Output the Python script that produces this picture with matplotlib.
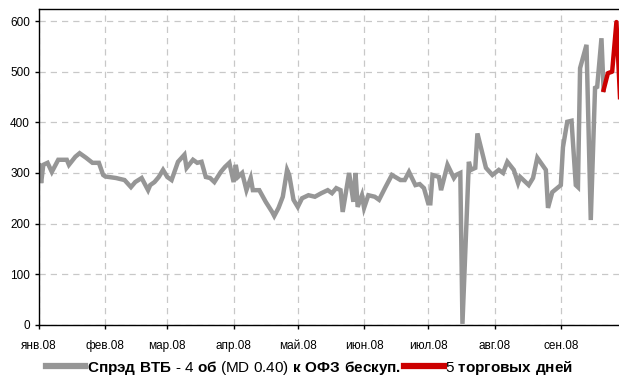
"""
Спрэд ВТБ-4 к ОФЗ, 2008
"""

import matplotlib
matplotlib.use("Agg")
import matplotlib.pyplot as plt
import pandas as pd

# day offset from 01.01.2008 and spread, bp
days = [0, 1, 2, 4, 6, 9, 13, 14, 17, 19, 22, 25, 28, 30, 31, 36, 40, 43, 45, 48,
        51, 52, 54, 56, 58, 60, 62, 65, 68, 69, 72, 74, 76, 78, 80, 82, 85, 87, 89, 91,
        92, 93, 95, 97, 99, 100, 103, 106, 109, 110, 112, 114, 116, 117, 119, 121, 123, 126, 129, 132,
        135, 137, 139, 141, 142, 145, 147, 148, 149, 151, 152, 154, 157, 159, 162, 165, 169, 171, 173, 176,
        178, 180, 182, 183, 184, 187, 188, 191, 194, 195, 197, 198, 201, 202, 204, 205, 209, 212, 215, 217,
        219, 222, 224, 225, 229, 231, 233, 237, 238, 240, 244, 245, 247, 249, 251, 252, 253, 256, 258, 260,
        261, 263, 264]
spread = [315, 280, 316, 320, 302, 326, 326, 316, 332, 339, 330, 320, 320, 296, 293, 290, 286, 272, 282, 290,
          266, 276, 282, 292, 306, 292, 286, 322, 336, 310, 326, 320, 322, 292, 290, 282, 302, 312, 320, 282,
          316, 292, 300, 266, 290, 266, 266, 243, 223, 215, 231, 253, 306, 296, 247, 233, 250, 256, 253, 260,
          266, 260, 270, 266, 223, 300, 243, 300, 233, 256, 231, 256, 253, 247, 272, 296, 286, 286, 302, 276,
          278, 270, 240, 240, 296, 292, 266, 316, 290, 296, 300, 2, 322, 306, 310, 378, 310, 296, 306, 300,
          322, 306, 280, 292, 276, 290, 330, 306, 231, 262, 276, 351, 401, 403, 276, 272, 507, 553, 207, 468,
          470, 566, 464]

# last 5 trading days
last_days = [264, 266, 268, 270, 272]
last_spread = [464, 497, 500, 598, 420]

months = ["янв.08", "фев.08", "мар.08", "апр.08", "май.08", "июн.08", "июл.08", "авг.08", "сен.08"]

start = pd.Timestamp("2008-01-01")
dates = start + pd.to_timedelta(days, unit="D")
last_dates = start + pd.to_timedelta(last_days, unit="D")

plt.rcParams["font.family"] = ["Liberation Sans", "DejaVu Sans"]
plt.rcParams["mathtext.fontset"] = "custom"
plt.rcParams["mathtext.rm"] = "Liberation Sans"
plt.rcParams["mathtext.bf"] = "Liberation Sans:bold"

fig = plt.figure(figsize=(6.19, 3.76), dpi=100)
ax = fig.add_axes([0.063, 0.136, 0.937, 0.840])

ax.plot(dates, spread, color="#969696", linewidth=3.2, solid_joinstyle="miter",
        label=r"$\mathbf{Спрэд\ ВТБ}$ - 4 $\mathbf{об}$ (MD 0.40) $\mathbf{к\ ОФЗ\ бескуп.}$")
ax.plot(last_dates, last_spread, color="#cc0000", linewidth=3.2,
        label=r"5 $\mathbf{торговых\ дней}$")

ax.set_ylim(0, 623.7)
ax.set_yticks(range(0, 601, 100))
ax.set_xlim(start, start + pd.Timedelta(days=271.2))

month_starts = pd.date_range("2008-01-01", periods=9, freq="MS")
ax.set_xticks(month_starts)
ax.set_xticklabels(months)

ax.grid(True, color="#c8c8c8", linestyle=(0, (5, 4)), linewidth=0.9)
ax.set_axisbelow(True)
for side in ["left", "bottom", "top"]:
    ax.spines[side].set_color("black")
    ax.spines[side].set_linewidth(1.0)
ax.spines["right"].set_visible(False)
ax.tick_params(axis="both", direction="out", length=3, width=1, labelsize=8.5, colors="black")
ax.tick_params(axis="x", pad=8)

leg = fig.legend(loc="center", bbox_to_anchor=(0.5, 0.022), ncol=2, frameon=False,
                 handlelength=2.6, handletextpad=0.1, columnspacing=0.2,
                 prop={"size": 11})
for line in leg.get_lines():
    line.set_linewidth(4.5)

fig.savefig("out.png", dpi=100)
